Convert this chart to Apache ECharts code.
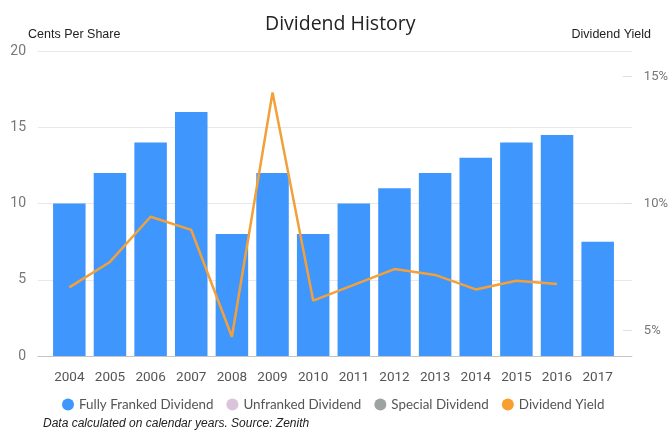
<!DOCTYPE html>
<html>
<head>
<meta charset="utf-8">
<script src="https://cdn.jsdelivr.net/npm/echarts@6/dist/echarts.min.js"></script>
<style>html,body{margin:0;padding:0;background:#fff}#c{width:671px;height:432px}</style>
</head>
<body>
<div id="c"></div>
<script>
var years = ['2004','2005','2006','2007','2008','2009','2010','2011','2012','2013','2014','2015','2016','2017'];
var fullyFranked = [10, 12, 14, 16, 8, 12, 8, 10, 11, 12, 13, 14, 14.5, 7.5];
var unfranked = [null, null, null, null, null, null, null, null, null, null, null, null, null, null];
var special = [null, null, null, null, null, null, null, null, null, null, null, null, null, null];
var dividendYield = [6.7, 7.7, 9.48, 8.96, 4.76, 14.37, 6.18, 6.8, 7.42, 7.19, 6.62, 6.96, 6.83, null];
var leftTicks = [0, 5, 10, 15, 20];
var rightTicks = [5, 10, 15];

var font = 'Roboto, sans-serif';
var lfont = 'Lato, sans-serif';
var afont = '"Liberation Sans", Arial, sans-serif';
var chart = echarts.init(document.getElementById('c'));
chart.setOption({
  animation: false,
  title: [
    {text: 'Dividend History', left: 260, top: 9, textStyle: {fontFamily: '"Open Sans", sans-serif', fontSize: 19.5, fontWeight: 'normal', color: '#222'}},
    {text: 'Cents Per Share', left: 23, top: 23, textStyle: {fontFamily: afont, fontSize: 12.5, fontWeight: 'normal', color: '#222'}},
    {text: 'Dividend Yield', right: 15, top: 23, textStyle: {fontFamily: afont, fontSize: 12.5, fontWeight: 'normal', color: '#222'}},
    {text: 'Data calculated on calendar years. Source: Zenith', left: 38, top: 413, textStyle: {fontFamily: afont, fontSize: 12, fontStyle: 'italic', fontWeight: 'normal', color: '#222'}}
  ],
  legend: {
    left: 57, top: 393, itemWidth: 12, itemHeight: 12, itemGap: 13, icon: 'circle',
    textStyle: {fontFamily: lfont, fontSize: 13.4, color: '#555'},
    data: ['Fully Franked Dividend', 'Unfranked Dividend', 'Special Dividend', 'Dividend Yield']
  },
  grid: [
    {left: 38, right: 39, top: 51, bottom: 76},
    {left: 49, right: 53, top: 51, bottom: 76}
  ],
  xAxis: [
    {type: 'value', gridIndex: 0, min: 0, max: 1, axisLabel: {show: false}, axisTick: {show: false}, splitLine: {show: false},
     axisLine: {show: true, onZero: false, lineStyle: {color: '#c4c4c4', width: 1}}},
    {type: 'category', gridIndex: 1, data: years, axisLine: {show: false}, axisTick: {show: false},
     axisLabel: {interval: 0, fontFamily: font, fontSize: 13.5, color: '#555', margin: 15}}
  ],
  yAxis: [
    {type: 'value', gridIndex: 0, min: 0, max: 20, interval: 5, position: 'left',
     axisLabel: {customValues: leftTicks, fontFamily: font, fontSize: 14, color: '#777', margin: 12},
     axisLine: {show: false}, axisTick: {show: false},
     splitLine: {lineStyle: {color: '#e8e8e8', width: 1}}},
    {type: 'value', gridIndex: 0, min: 4, max: 16, position: 'right',
     axisLabel: {customValues: rightTicks, formatter: '{value}%', fontFamily: font, fontSize: 13, color: '#777', margin: 12},
     axisLine: {show: false},
     axisTick: {show: true, customValues: rightTicks, inside: true, length: 9, lineStyle: {color: '#e0e0e0'}},
     splitLine: {show: false}},
    {type: 'value', gridIndex: 1, min: 0, max: 20, show: false},
    {type: 'value', gridIndex: 1, min: 4, max: 16, show: false}
  ],
  series: [
    {name: 'Fully Franked Dividend', type: 'bar', stack: 'div', xAxisIndex: 1, yAxisIndex: 2, data: fullyFranked,
     barCategoryGap: '20%', itemStyle: {color: '#3f96fd'}},
    {name: 'Unfranked Dividend', type: 'bar', stack: 'div', xAxisIndex: 1, yAxisIndex: 2, data: unfranked, itemStyle: {color: '#dcc3dc'}},
    {name: 'Special Dividend', type: 'bar', stack: 'div', xAxisIndex: 1, yAxisIndex: 2, data: special, itemStyle: {color: '#9da3a3'}},
    {name: 'Dividend Yield', type: 'line', xAxisIndex: 1, yAxisIndex: 3, data: dividendYield, showSymbol: false, symbol: 'circle',
     lineStyle: {color: '#f2a13a', width: 2.5}, itemStyle: {color: '#f7a030'}}
  ]
});
</script>
</body>
</html>
